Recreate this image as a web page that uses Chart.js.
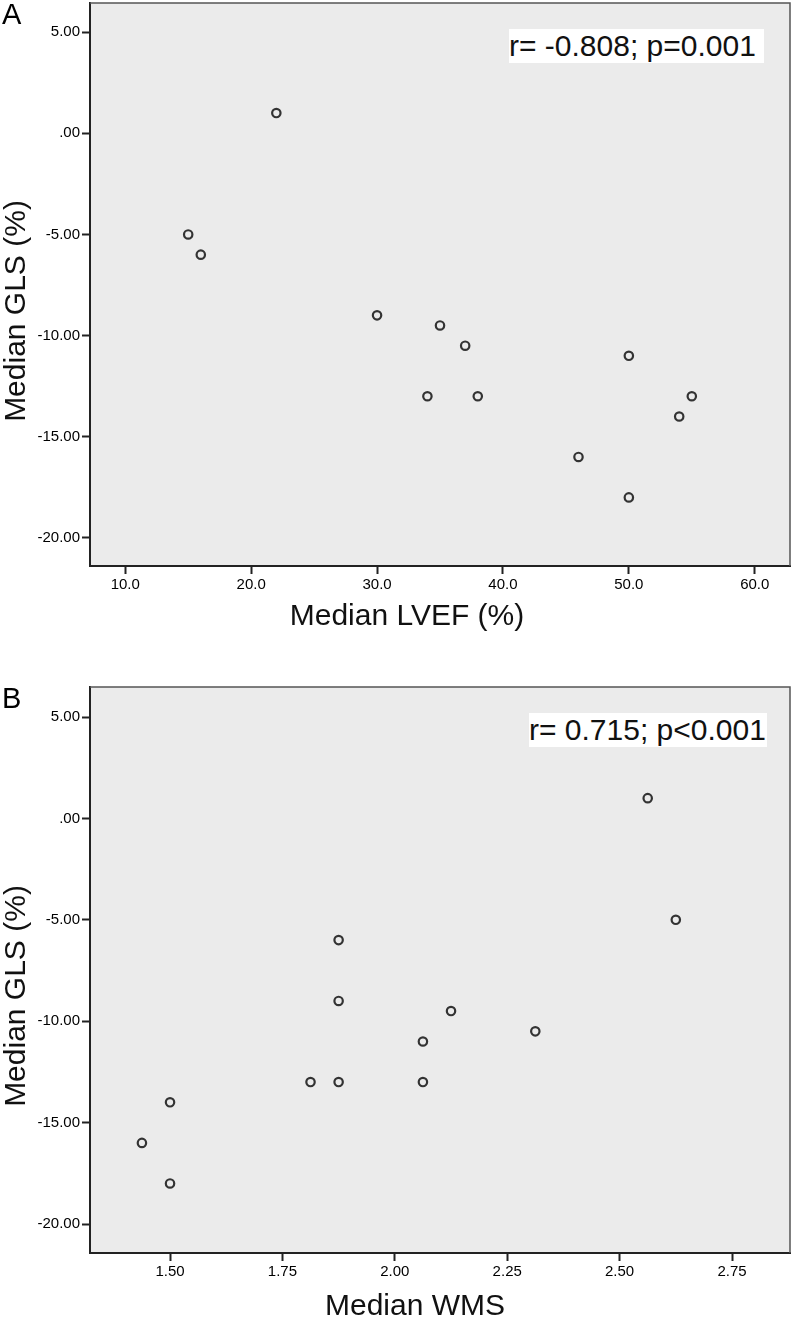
<!DOCTYPE html>
<html>
<head>
<meta charset="utf-8">
<script src="https://cdn.jsdelivr.net/npm/chart.js@4.4.0/dist/chart.umd.min.js"></script>
<style>
  html, body {
    margin: 0;
    padding: 0;
    background: #fff;
    width: 793px;
    height: 1320px;
    overflow: hidden;
    font-family: "Liberation Sans", Arial, sans-serif;
  }
  .panel { position: absolute; left: 0; width: 793px; }
  #panelA { top: 0; height: 650px; }
  #panelB { top: 660px; height: 670px; }
  .tag {
    position: absolute;
    left: 2px;
    font-size: 29px;
    line-height: 1;
    color: #000;
  }
  .stat {
    position: absolute;
    background: #fff;
    font-size: 30px;
    height: 34px;
    line-height: 34px;
    color: #111;
    white-space: nowrap;
    z-index: 2;
  }
</style>
</head>
<body>

<div class="panel" id="panelA">
  <canvas id="chartA"></canvas>
  <div class="tag" style="top:0px;">A</div>
  <div class="stat" style="left:509px; top:29px; padding:0 8px 0 0;">r= -0.808; p=0.001</div>
</div>

<div class="panel" id="panelB">
  <canvas id="chartB"></canvas>
  <div class="tag" style="top:24px;">B</div>
  <div class="stat" style="left:529px; top:53px; padding:0 1px 0 0;">r= 0.715; p&lt;0.001</div>
</div>

<script>
// Data
const lvef  = [22, 15, 16, 30, 35, 37, 34, 38, 50, 55, 54, 46, 50];
const glsA  = [1, -5, -6, -9, -9.5, -10.5, -13, -13, -11, -13, -14, -16, -18];

const wms   = [2.5625, 2.625, 1.875, 1.875, 2.125, 2.3125, 2.0625, 1.8125, 1.875, 2.0625, 1.5, 1.4375, 1.5];
const glsB  = [1, -5, -6, -9, -9.5, -10.5, -11, -13, -13, -13, -14, -16, -18];

// Tick labels
const glsTicks  = [5, 0, -5, -10, -15, -20];
const lvefTicks = [10, 20, 30, 40, 50, 60];
const wmsTicks  = [1.5, 1.75, 2.0, 2.25, 2.5, 2.75];

const tickFont = { family: '"Liberation Sans", Arial, sans-serif', size: 15 };
const titleFont = '30px "Liberation Sans", Arial, sans-serif';

// grey plot background + thin top/right frame like SPSS
const plotFrame = {
    id: 'plotFrame',
    beforeDraw(chart) {
        const { ctx, chartArea: a } = chart;
        ctx.save();
        ctx.fillStyle = '#ebebeb';
        ctx.fillRect(a.left, a.top, a.right - a.left, a.bottom - a.top);
        ctx.restore();
    },
    afterDraw(chart) {
        const { ctx, chartArea: a } = chart;
        ctx.save();
        ctx.strokeStyle = '#555';
        ctx.lineWidth = 1.5;
        ctx.beginPath();
        ctx.moveTo(a.left, a.top);
        ctx.lineTo(a.right, a.top);
        ctx.lineTo(a.right, a.bottom);
        ctx.stroke();
        ctx.restore();
    }
};

// axis titles (SPSS puts them a bit off-centre)
const axisTitles = {
    id: 'axisTitles',
    afterDraw(chart, args, opts) {
        const ctx = chart.ctx;
        ctx.save();
        ctx.font = titleFont;
        ctx.fillStyle = '#111';
        ctx.textAlign = 'center';
        ctx.textBaseline = 'middle';
        ctx.fillText(opts.xText, opts.xPos[0], opts.xPos[1]);
        ctx.translate(opts.yPos[0], opts.yPos[1]);
        ctx.rotate(-Math.PI / 2);
        ctx.fillText(opts.yText, 0, 0);
        ctx.restore();
    }
};

function makeScatter(canvasId, xs, ys, cfg) {
    const ctx = document.getElementById(canvasId).getContext('2d');
    return new Chart(ctx, {
        type: 'scatter',
        data: {
            datasets: [{
                data: xs.map((x, i) => ({ x: x, y: ys[i] })),
                pointRadius: 4.2,
                pointBorderWidth: 2.2,
                pointBorderColor: '#333',
                pointBackgroundColor: 'rgba(0,0,0,0)'
            }]
        },
        options: {
            responsive: true,
            maintainAspectRatio: false,
            animation: false,
            events: [],
            layout: {
                autoPadding: false,
                padding: { top: cfg.padTop, right: 3, left: 0, bottom: 0 }
            },
            plugins: {
                legend: { display: false },
                tooltip: { enabled: false },
                axisTitles: cfg.titles
            },
            scales: {
                x: {
                    type: 'linear',
                    min: cfg.xMin,
                    max: cfg.xMax,
                    afterBuildTicks: s => { s.ticks = cfg.xTicks.map(v => ({ value: v })); },
                    afterFit: s => {
                        s.height = cfg.xAxisHeight;
                        s.paddingLeft = 0;
                        s.paddingRight = 0;
                    },
                    grid: {
                        drawOnChartArea: false,
                        drawTicks: true,
                        tickLength: 8,
                        tickWidth: 2,
                        tickColor: '#222'
                    },
                    border: { display: true, color: '#222', width: 2 },
                    ticks: {
                        padding: 2,
                        autoSkip: false,
                        maxRotation: 0,
                        color: '#000',
                        font: tickFont,
                        callback: v => v.toFixed(cfg.xDigits)
                    }
                },
                y: {
                    type: 'linear',
                    min: cfg.yMin,
                    max: cfg.yMax,
                    afterBuildTicks: s => { s.ticks = glsTicks.map(v => ({ value: v })); },
                    afterFit: s => {
                        s.width = 90;
                        s.paddingTop = 0;
                        s.paddingBottom = 0;
                    },
                    grid: {
                        drawOnChartArea: false,
                        drawTicks: true,
                        tickLength: 8,
                        tickWidth: 2,
                        tickColor: '#222'
                    },
                    border: { display: true, color: '#222', width: 2 },
                    ticks: {
                        padding: 2,
                        autoSkip: false,
                        color: '#000',
                        font: tickFont,
                        callback: v => (v === 0 ? '.00' : v.toFixed(2))
                    }
                }
            }
        },
        plugins: [plotFrame, axisTitles]
    });
}

// Panel A: GLS vs LVEF
makeScatter('chartA', lvef, glsA, {
    padTop: 3,
    xAxisHeight: 84,
    xMin: 7.2, xMax: 62.8, xTicks: lvefTicks, xDigits: 1,
    yMin: -21.39, yMax: 6.44,
    titles: { xText: 'Median LVEF (%)', xPos: [407, 617], yText: 'Median GLS (%)', yPos: [17, 311] }
});

// Panel B: GLS vs WMS
makeScatter('chartB', wms, glsB, {
    padTop: 27,
    xAxisHeight: 77,
    xMin: 1.322, xMax: 2.879, xTicks: wmsTicks, xDigits: 2,
    yMin: -21.43, yMax: 6.48,
    titles: { xText: 'Median WMS', xPos: [415, 647], yText: 'Median GLS (%)', yPos: [17, 336] }
});
</script>
</body>
</html>
